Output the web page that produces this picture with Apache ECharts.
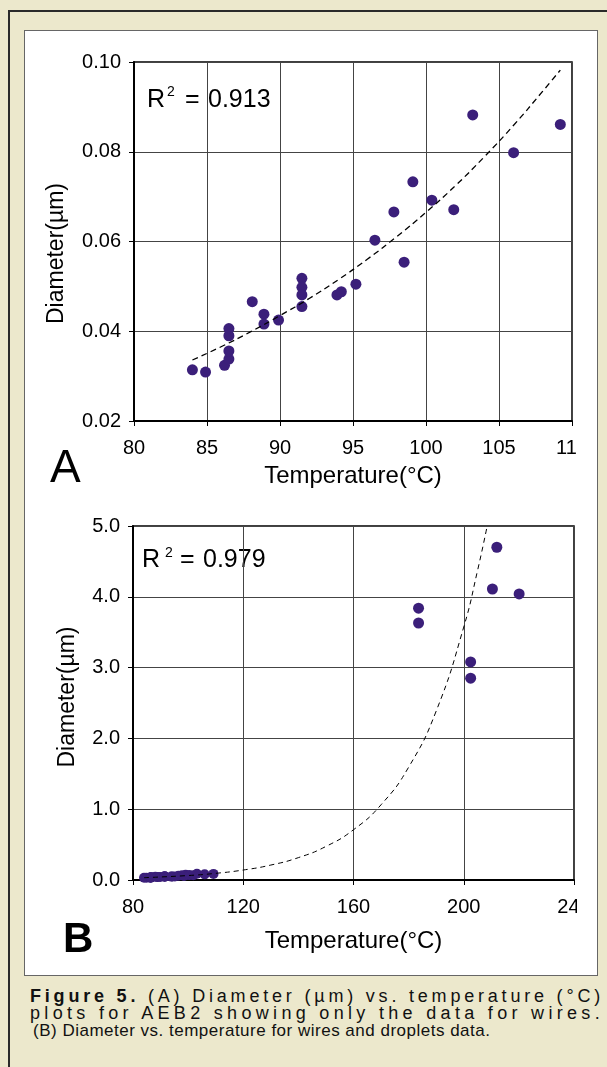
<!DOCTYPE html>
<html>
<head>
<meta charset="utf-8">
<script src="https://cdn.jsdelivr.net/npm/echarts@6/dist/echarts.min.js"></script>
<style>
  html, body { margin: 0; padding: 0; }
  body {
    width: 607px;
    height: 1067px;
    background: #ece8cc;
    position: relative;
    overflow: hidden;
    font-family: 'Liberation Sans', Arial, sans-serif;
  }
  .frame {
    position: absolute;
    left: 8px;
    top: 10px;
    width: 700px;
    height: 1100px;
    border-left: 2px solid #2a2a2a;
    border-top: 2px solid #2a2a2a;
  }
  .panel {
    position: absolute;
    left: 24px;
    top: 30px;
    width: 572px;
    height: 944px;
    background: #fff;
    border: 1px solid #666;
  }
  #chart {
    position: absolute;
    left: 0;
    top: 0;
    width: 577px;
    height: 975px;
  }
  .caption {
    position: absolute;
    left: 30px;
    top: 988px;
    width: 574px;
    font-size: 17px;
    line-height: 17px;
    color: #111;
  }
  .caption div { white-space: nowrap; }
  .caption .j { font-size: 18px; }
  .caption .n { padding-left: 3px; letter-spacing: 0.5px; }
</style>
</head>
<body>
<div class="frame"></div>
<div class="panel"></div>
<div id="chart"></div>
<div class="caption">
  <div class="j"><span><b>Figure 5.</b> (A) Diameter (µm) vs. temperature (°C)</span></div>
  <div class="j"><span>plots for AEB2 showing only the data for wires.</span></div>
  <div class="n">(B) Diameter vs. temperature for wires and droplets data.</div>
</div>
<script>
// wires: [temperature °C, diameter µm]
const wires = [
  [84.0, 0.0314], [84.9, 0.0309], [86.2, 0.0324], [86.5, 0.0338],
  [86.5, 0.0356], [86.5, 0.0390], [86.5, 0.0406], [88.1, 0.0466],
  [88.9, 0.0438], [88.9, 0.0416], [89.9, 0.0425], [91.5, 0.0518],
  [91.5, 0.0498], [91.5, 0.0481], [91.5, 0.0455], [93.9, 0.0481],
  [94.2, 0.0488], [95.2, 0.0505], [96.5, 0.0603], [97.8, 0.0666],
  [98.5, 0.0554], [99.1, 0.0733], [100.4, 0.0692], [101.9, 0.0671],
  [103.2, 0.0882], [106.0, 0.0798], [109.2, 0.0861]
];
// droplets (panel B only)
const droplets = [
  [183.6, 3.84], [183.6, 3.63], [202.5, 3.08], [202.5, 2.85],
  [210.4, 4.11], [212.0, 4.70], [220.1, 4.04]
];
// dashed trend lines
const trendA = [
  [84, 0.0336], [86, 0.0366], [88, 0.0399], [90, 0.0435], [92, 0.0473],
  [94, 0.0515], [96, 0.0561], [98, 0.0611], [100, 0.0665], [102, 0.0724],
  [104, 0.0789], [106, 0.0859], [108, 0.0935], [109.2, 0.0982]
];
const trendB = [
  [84, 0.033], [100, 0.063], [110, 0.094], [120, 0.141], [130, 0.211],
  [140, 0.316], [150, 0.474], [160, 0.71], [170, 1.063], [180, 1.593],
  [190, 2.386], [200, 3.573], [205, 4.37], [208.5, 5.0]
];
const r2A = '0.913';
const r2B = '0.979';

const font = "'Liberation Sans', Arial, sans-serif";
const dotColor = '#3b1f7a';

// spread the first two caption lines over the full width
document.querySelectorAll('.caption .j').forEach((line) => {
  const span = line.querySelector('span');
  const chars = span.textContent.length;
  const extra = 574 - span.getBoundingClientRect().width;
  span.style.letterSpacing = (extra / chars) + 'px';
});

const myChart = echarts.init(document.getElementById('chart'), null, { renderer: 'canvas' });

const xAxisBase = (gi, min, max, step) => ({
  gridIndex: gi,
  type: 'value',
  min: min,
  max: max,
  interval: step,
  name: 'Temperature(°C)',
  nameLocation: 'middle',
  nameTextStyle: { fontFamily: font, fontSize: 24, color: '#000' },
  axisLine: { show: true, onZero: false, lineStyle: { color: '#000', width: 2 } },
  axisTick: { show: true, inside: false, length: 5, lineStyle: { color: '#000', width: 1 } },
  axisLabel: { fontFamily: font, fontSize: 20, color: '#000', margin: 17, showMaxLabel: true },
  splitLine: { show: true, lineStyle: { color: '#444', width: 1 } }
});

const yAxisBase = (gi, min, max, step, digits) => ({
  gridIndex: gi,
  type: 'value',
  min: min,
  max: max,
  interval: step,
  name: 'Diameter(µm)',
  nameLocation: 'middle',
  axisLine: { show: true, onZero: false, lineStyle: { color: '#000', width: 2 } },
  axisTick: { show: true, inside: false, length: 5, lineStyle: { color: '#000', width: 1 } },
  axisLabel: {
    fontFamily: font, fontSize: 20, color: '#000', margin: 13,
    formatter: (v) => v.toFixed(digits)
  },
  splitLine: { show: true, lineStyle: { color: '#444', width: 1 } }
});

const xA = xAxisBase(0, 80, 110, 5);
xA.nameGap = 43;
const xB = xAxisBase(1, 80, 240, 40);
xB.nameGap = 49;

const yA = yAxisBase(0, 0.02, 0.10, 0.02, 2);
yA.nameGap = 66;
yA.nameTextStyle = { fontFamily: font, fontSize: 23, color: '#000', padding: [0, 24, 0, 0] };
const yB = yAxisBase(1, 0, 5, 1, 1);
yB.nameGap = 54;
yB.nameTextStyle = { fontFamily: font, fontSize: 23, color: '#000', padding: [0, 0, 0, 12] };

const option = {
  animation: false,
  grid: [
    { left: 134, top: 62, width: 438, height: 359, outerBoundsMode: 'none', containLabel: false, show: true, borderColor: '#000', borderWidth: 1.5, backgroundColor: 'transparent' },
    { left: 133, top: 526, width: 441, height: 354, outerBoundsMode: 'none', containLabel: false, show: true, borderColor: '#000', borderWidth: 1.5, backgroundColor: 'transparent' }
  ],
  xAxis: [xA, xB],
  yAxis: [yA, yB],
  graphic: [
    // panel A annotation
    { type: 'text', x: 147, y: 100.3, style: { text: 'R', font: '25px ' + font, fill: '#000', verticalAlign: 'middle' } },
    { type: 'text', x: 167, y: 91.9, style: { text: '2', font: '14px ' + font, fill: '#000', verticalAlign: 'middle' } },
    { type: 'text', x: 185, y: 100.3, style: { text: '=', font: '25px ' + font, fill: '#000', verticalAlign: 'middle' } },
    { type: 'text', x: 208, y: 100.3, style: { text: r2A, font: '25px ' + font, fill: '#000', verticalAlign: 'middle' } },
    { type: 'text', x: 50, y: 469, style: { text: 'A', font: '46px ' + font, fill: '#000', verticalAlign: 'middle' } },
    // panel B annotation
    { type: 'text', x: 142, y: 560.3, style: { text: 'R', font: '25px ' + font, fill: '#000', verticalAlign: 'middle' } },
    { type: 'text', x: 165, y: 553.4, style: { text: '2', font: '14px ' + font, fill: '#000', verticalAlign: 'middle' } },
    { type: 'text', x: 180, y: 560.3, style: { text: '=', font: '25px ' + font, fill: '#000', verticalAlign: 'middle' } },
    { type: 'text', x: 203, y: 560.3, style: { text: r2B, font: '25px ' + font, fill: '#000', verticalAlign: 'middle' } },
    { type: 'text', x: 63, y: 940, style: { text: 'B', font: 'bold 42px ' + font, fill: '#000', verticalAlign: 'middle' } }
  ],
  series: [
    {
      name: 'trend A', type: 'line', xAxisIndex: 0, yAxisIndex: 0,
      data: trendA, smooth: true, showSymbol: false, z: 3,
      lineStyle: { color: '#000', width: 1.3, type: [6, 4] }
    },
    {
      name: 'wires A', type: 'scatter', xAxisIndex: 0, yAxisIndex: 0,
      data: wires, symbolSize: 11, z: 2,
      itemStyle: { color: dotColor, opacity: 1 }
    },
    {
      name: 'trend B', type: 'line', xAxisIndex: 1, yAxisIndex: 1,
      data: trendB, smooth: true, showSymbol: false, z: 3,
      lineStyle: { color: '#000', width: 1, type: [5, 4] }
    },
    {
      name: 'wires B', type: 'scatter', xAxisIndex: 1, yAxisIndex: 1,
      data: wires, symbolSize: 10, z: 2,
      itemStyle: { color: dotColor, opacity: 1 }
    },
    {
      name: 'droplets B', type: 'scatter', xAxisIndex: 1, yAxisIndex: 1,
      data: droplets, symbolSize: 11, z: 2,
      itemStyle: { color: dotColor, opacity: 1 }
    }
  ]
};

myChart.setOption(option);
</script>
</body>
</html>
